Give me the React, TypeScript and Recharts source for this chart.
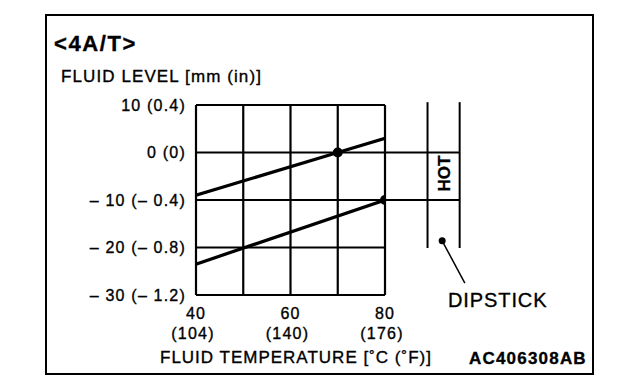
import { LineChart, Line, XAxis, YAxis, CartesianGrid, ReferenceLine, ReferenceDot } from 'recharts'

// 温度刻度 (°C / °F)
const tempTicks = [40, 50, 60, 70, 80]
const tempLabelsC = ['40', '', '60', '', '80']
const tempLabelsF = ['(104)', '', '(140)', '', '(176)']

// 液位刻度 (mm / in)
const levelTicks = [10, 0, -10, -20, -30]
const levelLabels = ['10 (0.4)', '0 (0)', '– 10 (– 0.4)', '– 20 (– 0.8)', '– 30 (– 1.2)']

// 两条液位线
const upperTemps = [40, 70, 80]
const upperLevels = [-9, 0, 3]
const lowerTemps = [40, 80]
const lowerLevels = [-23.5, -10]
const upperMarkTemp = 70
const lowerMarkTemp = 80

// 油尺示意 (图表单位)
const hotLevels = [0, -10]
const stickLeft = 89
const stickRight = 95.8
const stickTop = 10.6
const stickBottom = -20.1
const stickDot = { t: 92.1, v: -18.6 }
const leaderEnd = { t: 96.9, v: -27.5 }

const upperData = upperTemps.map((t, i) => ({ t, v: upperLevels[i] }))
const lowerData = lowerTemps.map((t, i) => ({ t, v: lowerLevels[i] }))

const font = '"Liberation Sans", Arial, sans-serif'
// 原图文字偏粗，用细描边加重
const heavy = { stroke: '#000', strokeWidth: 0.35 }

function TempTick({ x, y, payload }: any) {
  const i = tempTicks.indexOf(payload.value)
  if (i < 0 || !tempLabelsC[i]) return <g />
  return (
    <g fontFamily={font} fontSize={16} letterSpacing={1.2} fill="#000" {...heavy}>
      <text x={x} y={y + 22} textAnchor="middle">{tempLabelsC[i]}</text>
      <text x={x - 3} y={y + 42} textAnchor="middle">{tempLabelsF[i]}</text>
    </g>
  )
}

function LevelTick({ x, y, payload }: any) {
  const i = levelTicks.indexOf(payload.value)
  return (
    <text x={x} y={y} dy="0.36em" textAnchor="end" fontFamily={font} fontSize={16} letterSpacing={1.2} fill="#000" {...heavy}>
      {levelLabels[i]}
    </text>
  )
}

function markDot(markT: number) {
  return (props: any) => {
    const { cx, cy, payload, index } = props
    if (payload.t !== markT) return <g key={index} />
    return <circle key={index} cx={cx} cy={cy} r={5} fill="#000" />
  }
}

export default function App() {
  return (
    <div style={{ position: 'absolute', left: 0, top: 0, width: 640, height: 388, background: '#fff' }}>
      <LineChart width={640} height={388} margin={{ top: 105, right: 255, bottom: 33, left: 96 }}>
        <CartesianGrid stroke="#000" strokeWidth={2.2} fill="none" />
        <XAxis
          type="number"
          dataKey="t"
          domain={[40, 80]}
          ticks={tempTicks}
          interval={0}
          height={60}
          tickLine={false}
          axisLine={false}
          tickSize={0}
          tick={<TempTick />}
          allowDataOverflow
        />
        <YAxis
          type="number"
          domain={[-30, 10]}
          ticks={levelTicks}
          interval={0}
          width={100}
          tickLine={false}
          axisLine={false}
          tickSize={0}
          tickMargin={10}
          tick={<LevelTick />}
          allowDataOverflow
        />
        {hotLevels.map(v => (
          <ReferenceLine
            key={v}
            segment={[{ x: 80, y: v }, { x: stickRight, y: v }]}
            stroke="#000"
            strokeWidth={2.2}
            ifOverflow="visible"
          />
        ))}
        {[stickLeft, stickRight].map(t => (
          <ReferenceLine
            key={t}
            segment={[{ x: t, y: stickTop }, { x: t, y: stickBottom }]}
            stroke="#000"
            strokeWidth={2}
            ifOverflow="visible"
          />
        ))}
        <ReferenceLine
          segment={[{ x: stickDot.t, y: stickDot.v }, { x: leaderEnd.t, y: leaderEnd.v }]}
          stroke="#000"
          strokeWidth={1.5}
          ifOverflow="visible"
        />
        <ReferenceDot x={stickDot.t} y={stickDot.v} r={3.5} fill="#000" stroke="none" ifOverflow="visible" />
        <Line
          data={upperData}
          dataKey="v"
          type="linear"
          stroke="#000"
          strokeWidth={3.2}
          dot={markDot(upperMarkTemp)}
          activeDot={false}
          isAnimationActive={false}
        />
        <Line
          data={lowerData}
          dataKey="v"
          type="linear"
          stroke="#000"
          strokeWidth={3.2}
          dot={markDot(lowerMarkTemp)}
          activeDot={false}
          isAnimationActive={false}
        />
      </LineChart>

      {/* 外框与文字 */}
      <svg width={640} height={388} style={{ position: 'absolute', left: 0, top: 0, pointerEvents: 'none' }} fontFamily={font} fill="#000">
        <rect x={46} y={15} width={547} height={359} fill="none" stroke="#000" strokeWidth={2} />
        <g {...heavy}>
          <text x={54} y={51} fontSize={22} fontWeight="bold" letterSpacing={1.6}>&lt;4A/T&gt;</text>
          <text x={61} y={82} fontSize={17} letterSpacing={1.1}>FLUID LEVEL [mm (in)]</text>
          <text x={160} y={363} fontSize={17} letterSpacing={1}>FLUID TEMPERATURE [˚C (˚F)]</text>
          <text x={469} y={364} fontSize={17} fontWeight="bold" letterSpacing={1.2}>AC406308AB</text>
          <text x={448} y={306.5} fontSize={20} letterSpacing={0.9}>DIPSTICK</text>
          <text transform="translate(450,173.5) rotate(-90)" textAnchor="middle" fontSize={17} fontWeight="bold">HOT</text>
        </g>
      </svg>
    </div>
  )
}
